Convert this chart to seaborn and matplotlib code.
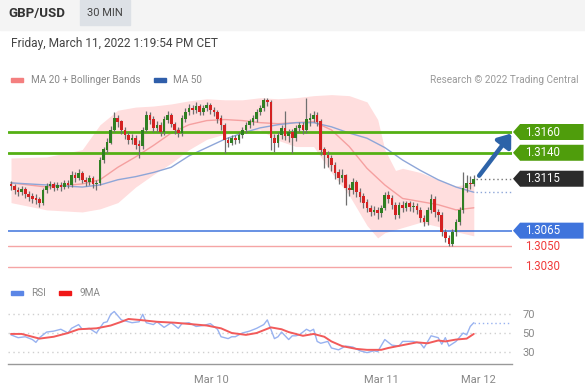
import numpy as np
import matplotlib
matplotlib.use("Agg")
import matplotlib.pyplot as plt
import matplotlib.transforms as mtransforms
from matplotlib.patches import Polygon, Rectangle
import seaborn as sns

# 30 min candles, GBP/USD
first_open = 1.3110
closes = [1.3108, 1.3104, 1.3102, 1.3105, 1.3100, 1.3098, 1.3096, 1.3095, 1.3092, 1.3104,
          1.3108, 1.3110, 1.3106, 1.3109, 1.3107, 1.3111, 1.3109, 1.3118, 1.3116, 1.3120,
          1.3114, 1.3112, 1.3116, 1.3110, 1.3111, 1.3133, 1.3143, 1.3150, 1.3162, 1.3173,
          1.3170, 1.3162, 1.3157, 1.3152, 1.3154, 1.3148, 1.3147, 1.3162, 1.3176, 1.3172,
          1.3164, 1.3167, 1.3160, 1.3172, 1.3176, 1.3168, 1.3162, 1.3159, 1.3173, 1.3179,
          1.3183, 1.3181, 1.3185, 1.3179, 1.3183, 1.3186, 1.3181, 1.3179, 1.3173, 1.3167,
          1.3152, 1.3150, 1.3154, 1.3152, 1.3157, 1.3162, 1.3167, 1.3170, 1.3173, 1.3179,
          1.3183, 1.3191, 1.3189, 1.3154, 1.3150, 1.3157, 1.3164, 1.3156, 1.3160, 1.3154,
          1.3164, 1.3167, 1.3162, 1.3172, 1.3173, 1.3176, 1.3170, 1.3143, 1.3138, 1.3135,
          1.3128, 1.3121, 1.3116, 1.3118, 1.3106, 1.3104, 1.3112, 1.3102, 1.3098, 1.3092,
          1.3087, 1.3083, 1.3085, 1.3082, 1.3087, 1.3099, 1.3096, 1.3090, 1.3080, 1.3090,
          1.3087, 1.3091, 1.3088, 1.3089, 1.3085, 1.3077, 1.3073, 1.3085, 1.3095, 1.3083,
          1.3080, 1.3064, 1.3058, 1.3052, 1.3064, 1.3073, 1.3085, 1.3106, 1.3111, 1.3110,
          1.3115]
highs = [1.3113, 1.3110, 1.3107, 1.3108, 1.3107, 1.3103, 1.3101, 1.3100, 1.3097, 1.3106,
         1.3111, 1.3113, 1.3112, 1.3112, 1.3112, 1.3114, 1.3114, 1.3122, 1.3121, 1.3124,
         1.3122, 1.3117, 1.3119, 1.3118, 1.3114, 1.3136, 1.3146, 1.3154, 1.3166, 1.3179,
         1.3176, 1.3172, 1.3165, 1.3160, 1.3158, 1.3157, 1.3152, 1.3165, 1.3180, 1.3179,
         1.3175, 1.3171, 1.3170, 1.3175, 1.3180, 1.3178, 1.3170, 1.3165, 1.3176, 1.3183,
         1.3187, 1.3186, 1.3189, 1.3187, 1.3186, 1.3189, 1.3188, 1.3184, 1.3181, 1.3176,
         1.3169, 1.3155, 1.3157, 1.3157, 1.3160, 1.3165, 1.3170, 1.3173, 1.3176, 1.3182,
         1.3186, 1.3193, 1.3193, 1.3191, 1.3158, 1.3160, 1.3167, 1.3180, 1.3163, 1.3163,
         1.3167, 1.3170, 1.3170, 1.3193, 1.3178, 1.3180, 1.3179, 1.3173, 1.3146, 1.3142,
         1.3138, 1.3131, 1.3124, 1.3124, 1.3120, 1.3110, 1.3116, 1.3114, 1.3106, 1.3101,
         1.3095, 1.3090, 1.3089, 1.3088, 1.3090, 1.3102, 1.3103, 1.3099, 1.3093, 1.3093,
         1.3094, 1.3094, 1.3094, 1.3093, 1.3092, 1.3088, 1.3080, 1.3088, 1.3100, 1.3098,
         1.3086, 1.3083, 1.3067, 1.3061, 1.3067, 1.3076, 1.3088, 1.3121, 1.3119, 1.3118,
         1.3119]
lows = [1.3104, 1.3100, 1.3098, 1.3099, 1.3096, 1.3094, 1.3092, 1.3091, 1.3088, 1.3090,
        1.3101, 1.3105, 1.3103, 1.3104, 1.3103, 1.3105, 1.3106, 1.3107, 1.3112, 1.3114,
        1.3111, 1.3108, 1.3109, 1.3106, 1.3104, 1.3109, 1.3130, 1.3140, 1.3148, 1.3160,
        1.3165, 1.3158, 1.3153, 1.3148, 1.3148, 1.3144, 1.3135, 1.3144, 1.3160, 1.3168,
        1.3160, 1.3160, 1.3156, 1.3157, 1.3169, 1.3165, 1.3158, 1.3155, 1.3156, 1.3170,
        1.3176, 1.3177, 1.3178, 1.3176, 1.3176, 1.3180, 1.3177, 1.3175, 1.3169, 1.3162,
        1.3140, 1.3146, 1.3147, 1.3148, 1.3149, 1.3154, 1.3159, 1.3164, 1.3167, 1.3170,
        1.3176, 1.3180, 1.3185, 1.3143, 1.3141, 1.3146, 1.3153, 1.3152, 1.3150, 1.3140,
        1.3151, 1.3160, 1.3158, 1.3159, 1.3166, 1.3170, 1.3166, 1.3138, 1.3125, 1.3126,
        1.3122, 1.3115, 1.3110, 1.3112, 1.3090, 1.3098, 1.3100, 1.3097, 1.3093, 1.3087,
        1.3083, 1.3079, 1.3080, 1.3076, 1.3078, 1.3085, 1.3092, 1.3086, 1.3076, 1.3077,
        1.3083, 1.3084, 1.3084, 1.3083, 1.3081, 1.3073, 1.3069, 1.3070, 1.3082, 1.3078,
        1.3074, 1.3060, 1.3054, 1.3050, 1.3050, 1.3060, 1.3070, 1.3082, 1.3102, 1.3105,
        1.3108]

# moving averages, sampled every 5 candles
ma_idx = [0, 10, 20, 25, 30, 35, 40, 45, 50, 55, 60, 65, 70, 75, 80, 85, 90, 95, 100,
          105, 110, 115, 120, 125, 130]
ma20 = [1.3111, 1.3107, 1.3110, 1.3114, 1.3126, 1.3136, 1.3147, 1.3159, 1.3167, 1.3171,
        1.3172, 1.3171, 1.3169, 1.3168, 1.3169, 1.3170, 1.3162, 1.3146, 1.3125, 1.3109,
        1.3096, 1.3093, 1.3090, 1.3085, 1.3087]
ma50 = [1.3111, 1.3109, 1.3107, 1.3109, 1.3114, 1.3117, 1.3121, 1.3126, 1.3137, 1.3145,
        1.3153, 1.3159, 1.3164, 1.3167, 1.3169, 1.3169, 1.3165, 1.3159, 1.3154, 1.3145,
        1.3133, 1.3123, 1.3114, 1.3107, 1.3102]

band_idx = [0, 10, 20, 25, 30, 35, 40, 45, 50, 55, 60, 65, 70, 75, 80, 85, 90, 95, 100,
            103, 105, 108, 110, 115, 120, 125, 130]
bb_upper = [1.3135, 1.3136, 1.3143, 1.3167, 1.3181, 1.3184, 1.3185, 1.3187, 1.3190, 1.3192,
            1.3191, 1.3191, 1.3193, 1.3192, 1.3193, 1.3195, 1.3196, 1.3195, 1.3189, 1.3172,
            1.3143, 1.3123, 1.3125, 1.3121, 1.3114, 1.3108, 1.3111]
bb_lower = [1.3092, 1.3085, 1.3083, 1.3086, 1.3092, 1.3107, 1.3119, 1.3130, 1.3143, 1.3153,
            1.3158, 1.3159, 1.3162, 1.3152, 1.3146, 1.3146, 1.3121, 1.3099, 1.3070, 1.3058,
            1.3063, 1.3066, 1.3068, 1.3073, 1.3069, 1.3064, 1.3060]

# RSI panel
rsi_idx = [0, 2, 4, 6, 7, 8, 10, 12, 14, 16, 17, 19, 20, 22, 24, 26, 27, 28, 29, 31,
           33, 34, 36, 37, 38, 40, 41, 43, 45, 47, 48, 50, 52, 54, 56, 58, 59, 61, 62, 63,
           65, 67, 69, 71, 72, 74, 75, 76, 78, 79, 80, 81, 83, 84, 85, 86, 87, 89, 90, 92,
           93, 94, 96, 98, 100, 102, 103, 105, 107, 109, 110, 113, 115, 116, 118, 120, 121,
           122, 123, 125, 127, 128, 129, 130]
rsi = [48, 45, 46, 43, 40, 45, 51, 52, 54, 50, 55, 59, 54, 55, 50, 61, 62, 70, 73, 64,
       62, 61, 62, 70, 61, 59, 62, 56, 61, 55, 60, 61, 57, 58, 60, 54, 46, 44, 46, 46,
       50, 52, 55, 59, 64, 44, 46, 51, 43, 47, 47, 48, 54, 52, 54, 41, 39, 41, 34, 32,
       34, 36, 35, 31, 29, 31, 30, 43, 37, 36, 41, 41, 39, 34, 47, 45, 38, 45, 36, 41,
       50, 48, 57, 61]
rsi9_idx = [0, 3, 8, 12, 16, 19, 24, 28, 31, 33, 36, 41, 46, 49, 55, 59, 62, 66, 69, 73,
            76, 78, 82, 85, 88, 90, 93, 97, 100, 104, 106, 110, 114, 117, 120, 122, 125,
            128, 130]
rsi9 = [49, 49, 44, 46, 50, 54, 55, 58, 62, 65, 64, 62, 61, 60, 58, 55, 50, 48, 50, 56,
        54, 51, 47, 49, 46, 41, 36, 33, 32, 32, 34, 37, 40, 39, 42, 41, 43, 44, 49]

resistances = [1.3160, 1.3140]
last_price = 1.3115
support = 1.3065
targets_below = [1.3050, 1.3030]
day_labels = ["Mar 10", "Mar 11", "Mar 12"]
day_pos = [56.2, 104.0, 131.2]

GREEN = "#55b014"
TAG_GREEN = "#4f9d0c"
BLUE_LVL = "#3f74dc"
RED_LVL = "#f5a5a5"

sns.set_theme(style="white")
plt.rcParams["font.family"] = ["Roboto", "DejaVu Sans"]

W, H = 585, 388
fig = plt.figure(figsize=(W / 100, H / 100), dpi=100)

# header strip
fig.add_artist(Rectangle((0, 1 - 30 / H), 1, 30 / H, transform=fig.transFigure,
                         color="#f4f4f4", zorder=0))
fig.add_artist(Rectangle((80 / W, 1 - 25 / H), 50 / W, 25 / H, transform=fig.transFigure,
                         color="#dde1e6", zorder=1))
fig.text(8 / W, 1 - 14 / H, "GBP/USD", fontsize=9.5, fontweight="bold", color="#333333",
         va="center", ha="left")
fig.text(105 / W, 1 - 13 / H, "30 MIN", fontsize=8, color="#444444", va="center", ha="center")
fig.text(11 / W, 1 - 43 / H, "Friday, March 11, 2022 1:19:54 PM CET", fontsize=8.6,
         color="#444444", va="center", ha="left")

# legends
fig.add_artist(Rectangle((11 / W, 1 - 82 / H), 12 / W, 4 / H, transform=fig.transFigure,
                         color="#f47f7f"))
fig.text(31 / W, 1 - 80 / H, "MA 20 + Bollinger Bands", fontsize=7.2, color="#888888",
         va="center")
fig.add_artist(Rectangle((154 / W, 1 - 82 / H), 12 / W, 4 / H, transform=fig.transFigure,
                         color="#2f5eaa"))
fig.text(173 / W, 1 - 80 / H, "MA 50", fontsize=7.2, color="#888888", va="center")
fig.text(578 / W, 1 - 80 / H, "Research \u00a9 2022 Trading Central", fontsize=7.2,
         color="#9a9a9a", va="center", ha="right")

fig.add_artist(Rectangle((11 / W, 1 - 295 / H), 12 / W, 4 / H, transform=fig.transFigure,
                         color="#5b86e6"))
fig.text(31 / W, 1 - 293 / H, "RSI", fontsize=7.2, color="#888888", va="center")
fig.add_artist(Rectangle((59 / W, 1 - 295 / H), 12 / W, 4 / H, transform=fig.transFigure,
                         color="#f01818"))
fig.text(79 / W, 1 - 293 / H, "9MA", fontsize=7.2, color="#888888", va="center")

# ---- price panel ----
px = 0.0000963  # price per pixel
ax = fig.add_axes([8 / W, 1 - 275 / H, 504 / W, 190 / H])
xmin = (8 - 11) / 3.56
xmax = (512 - 11) / 3.56
ax.set_xlim(xmin, xmax)
ax.set_ylim(1.3160 - 143 * px, 1.3160 + 47 * px)
ax.axis("off")

ax.fill_between(band_idx, bb_upper, bb_lower, color="#ffdede", lw=0, zorder=1)
sns.lineplot(x=ma_idx, y=ma20, ax=ax, color="#f5a0a0", lw=1, zorder=2)
sns.lineplot(x=ma_idx, y=ma50, ax=ax, color="#8ea6d8", lw=1, zorder=2)

for lvl in resistances:
    ax.axhline(lvl, color=GREEN, lw=2, zorder=3)
ax.axhline(support, color=BLUE_LVL, lw=1.1, zorder=3)
for lvl in targets_below:
    ax.axhline(lvl, color=RED_LVL, lw=1, zorder=3)

idx = np.arange(len(closes))
c = np.array(closes)
o = np.r_[first_open, c[:-1]]
up = c >= o
ax.vlines(idx, lows, highs, color="#6f6f6f", lw=0.9, zorder=4)
ax.bar(idx, np.abs(c - o) + 0.00003, bottom=np.minimum(o, c) - 0.000015, width=0.75,
       color=np.where(up, "#2f7f22", "#d42222"), lw=0, zorder=5)

last_i = idx[-1]
ax.plot([last_i + 0.6, xmax], [last_price, last_price], ls=(0, (1, 2)), color="#777777",
        lw=1, zorder=3)
ax.plot([last_i + 0.6, xmax], [ma50[-1], ma50[-1]], ls=(0, (1, 2)), color="#8ea6d8",
        lw=1, zorder=3)
ax.annotate("", xy=(xmax - 0.2, resistances[0] - 1.5 * px),
            xytext=(last_i + 1.5, last_price + 3 * px),
            arrowprops=dict(arrowstyle="-|>,head_length=0.6,head_width=0.45", lw=3.2,
                            color="#2d63a8", shrinkA=0, shrinkB=0), zorder=6)

trans = mtransforms.blended_transform_factory(ax.transAxes, ax.transData)
tip, body, right = 1.002, 1.016, 1.142
hh = 8 * px


def tag(y, text, color):
    pts = [(tip, y), (body, y + hh), (right, y + hh), (right, y - hh), (body, y - hh)]
    ax.add_patch(Polygon(pts, closed=True, transform=trans, clip_on=False, color=color,
                         lw=0, zorder=7))
    ax.text(1.025, y, text, transform=trans, color="white", fontsize=8.3, va="center",
            ha="left", zorder=8, clip_on=False)


for lvl in resistances:
    tag(lvl, f"{lvl:.4f}", TAG_GREEN)
tag(last_price, f"{last_price:.4f}", "#2b2b2b")
tag(support, f"{support:.4f}", "#3f74dc")
for lvl in targets_below:
    ax.text(1.025, lvl, f"{lvl:.4f}", transform=trans, color="#f03a3a", fontsize=8.3,
            va="center", ha="left", clip_on=False)

# ---- RSI panel ----
rx = fig.add_axes([8 / W, 1 - 364 / H, 504 / W, 64 / H])
rx.set_xlim(xmin, xmax)
rx.set_ylim(30 - 12.3 / 0.935, 70 + 14.3 / 0.935)
for lvl in [30, 50, 70]:
    rx.axhline(lvl, color="#cfcfcf", lw=1, ls=(0, (1, 2.5)), zorder=1)
sns.lineplot(x=rsi_idx, y=rsi, ax=rx, color="#98b2f0", lw=1, zorder=3)
sns.lineplot(x=rsi9_idx, y=rsi9, ax=rx, color="#f25a5a", lw=1.4, zorder=4)
rx.plot([rsi_idx[-1], xmax], [rsi[-1], rsi[-1]], ls=(0, (1, 2)), color="#98b2f0", lw=1)

for s in ["top", "left", "right"]:
    rx.spines[s].set_visible(False)
rx.spines["bottom"].set_color("#999999")
rx.spines["bottom"].set_linewidth(1)
rx.set_xticks(day_pos)
rx.set_xticklabels(day_labels, fontsize=8, color="#888888")
rx.tick_params(axis="x", length=0, pad=8)
rx.set_xticks([xmin + 0.05, xmax - 0.05], minor=True)
rx.tick_params(axis="x", which="minor", length=5, width=1, color="#999999", direction="out")
rx.yaxis.tick_right()
rx.set_yticks([30, 50, 70])
rx.set_yticklabels(["30", "50", "70"], fontsize=8, color="#888888")
rx.tick_params(axis="y", length=0, pad=7.5)
rx.set_xlabel("")
rx.set_ylabel("")
rx.grid(False)

fig.savefig("out.png", dpi=100)
